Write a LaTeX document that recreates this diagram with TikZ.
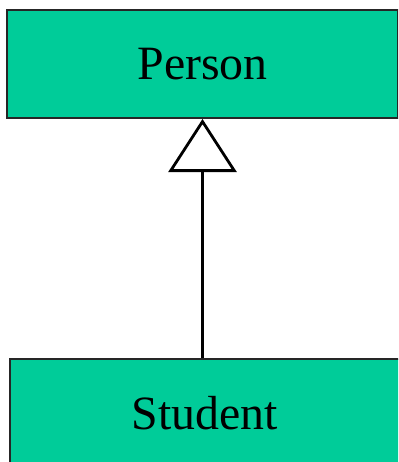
\documentclass[tikz,border=0pt]{standalone}
\usepackage{fontspec}
\setmainfont{Liberation Serif}
\usetikzlibrary{arrows.meta, positioning}
\definecolor{classgreen}{RGB}{0,204,153}

\begin{document}
\begin{tikzpicture}[x=1bp, y=1bp, font=\fontsize{48}{58}\selectfont,
    classbox/.style={rectangle, draw=black!85, line width=2bp, fill=classgreen, minimum width=390bp, minimum height=108bp, inner sep=0pt}]
    \clip (0,0) rectangle (398,-462);
    \node[classbox] (person) at (202.5,-64) {Person};
    \node[classbox] (student) at (205,-413) {Student};
    \draw[line width=2.8bp, -{Triangle[open, length=53bp, width=68bp]}] (student.north -| person.south) -- (person.south);
  \end{tikzpicture}
\end{document}
